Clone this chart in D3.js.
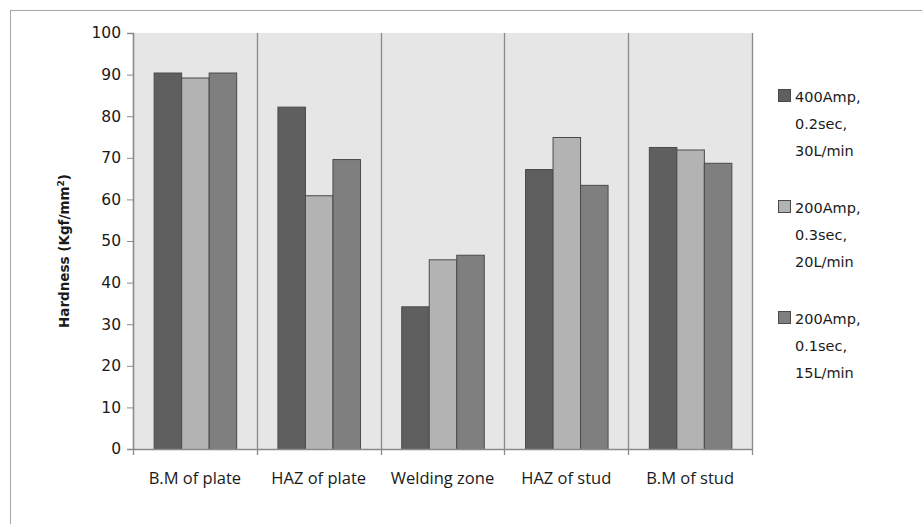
<!DOCTYPE html>
<html>
<head>
<meta charset="utf-8">
<script src="https://cdn.jsdelivr.net/npm/d3@7"></script>
<style>
  body { margin: 0; background: #fff; }
  svg text { fill: #1a1a1a; }
</style>
</head>
<body>
<div id="chart"></div>
<script>
// Hardness per zone, three welding settings
var zones = ['B.M of plate', 'HAZ of plate', 'Welding zone', 'HAZ of stud', 'B.M of stud'];
var seriesNames = [
  ['400Amp,', '0.2sec,', '30L/min'],
  ['200Amp,', '0.3sec,', '20L/min'],
  ['200Amp,', '0.1sec,', '15L/min']
];
var s400 = [90.5, 82.3, 34.3, 67.3, 72.6];
var s200a = [89.3, 61.0, 45.6, 75.0, 72.0];
var s200b = [90.5, 69.7, 46.7, 63.5, 68.8];
var yTicks = [0, 10, 20, 30, 40, 50, 60, 70, 80, 90, 100];
var colours = ['#5f5f5f', '#b3b3b3', '#7f7f7f'];

var width = 922, height = 524;
var margin = {top: 33, left: 133, right: 170, bottom: 75};
var plotW = width - margin.left - margin.right;
var plotH = height - margin.top - margin.bottom;

var svg = d3.select('#chart').append('svg')
  .attr('width', width)
  .attr('height', height);

// outer frame
svg.append('rect')
  .attr('x', 10.5).attr('y', 10.5)
  .attr('width', width + 20).attr('height', height + 20)
  .attr('fill', 'none')
  .attr('stroke', '#a6a6a6')
  .attr('stroke-width', 1);

var g = svg.append('g')
  .attr('transform', 'translate(' + margin.left + ',' + margin.top + ')');

var x = d3.scaleBand().domain(zones).range([0, plotW]).paddingInner(0).paddingOuter(0);
var xs = d3.scaleBand().domain([0, 1, 2]).range([0, x.bandwidth()]).paddingInner(0).paddingOuter(0.75);
var y = d3.scaleLinear().domain([0, 100]).range([plotH, 0]);

g.append('rect')
  .attr('width', plotW).attr('height', plotH)
  .attr('fill', '#e6e6e6');

var rows = zones.map(function(z, i) {
  return {zone: z, values: [s400[i], s200a[i], s200b[i]]};
});

g.selectAll('g.zone')
  .data(rows).enter()
  .append('g')
    .attr('class', 'zone')
    .attr('transform', function(d) { return 'translate(' + x(d.zone) + ',0)'; })
  .selectAll('rect')
  .data(function(d) { return d.values; })
  .enter().append('rect')
    .attr('x', function(d, i) { return xs(i) + 0.5; })
    .attr('y', function(d) { return y(d) + 0.5; })
    .attr('width', xs.bandwidth())
    .attr('height', function(d) { return plotH - y(d); })
    .attr('fill', function(d, i) { return colours[i]; })
    .attr('stroke', '#4a4a4a')
    .attr('stroke-width', 1);

// separators between zones, running down into tick marks
var bounds = zones.map(function(z) { return x(z); }).concat([plotW]);
g.selectAll('line.sep')
  .data(bounds).enter()
  .append('line')
    .attr('class', 'sep')
    .attr('x1', function(d) { return Math.round(d) + 0.5; })
    .attr('x2', function(d) { return Math.round(d) + 0.5; })
    .attr('y1', 0)
    .attr('y2', plotH + 6)
    .attr('stroke', '#8a8a8a')
    .attr('stroke-width', 1.3);

// y axis
var yAxis = g.append('g')
  .call(d3.axisLeft(y).tickValues(yTicks).tickSize(6).tickPadding(6));
yAxis.select('.domain').attr('stroke', '#8a8a8a').attr('stroke-width', 1.3);
yAxis.selectAll('.tick line').attr('stroke', '#8a8a8a');
yAxis.selectAll('.tick text')
  .attr('font-family', '"DejaVu Sans", Verdana, sans-serif')
  .attr('font-size', '15.5px')
  .attr('fill', '#1a1a1a');

// x baseline
g.append('line')
  .attr('x1', 0).attr('x2', plotW)
  .attr('y1', plotH + 0.5).attr('y2', plotH + 0.5)
  .attr('stroke', '#8a8a8a').attr('stroke-width', 1.3);

// category labels
g.selectAll('text.cat')
  .data(zones).enter()
  .append('text')
    .attr('class', 'cat')
    .attr('x', function(d) { return x(d) + x.bandwidth() / 2; })
    .attr('y', plotH + 35)
    .attr('text-anchor', 'middle')
    .attr('font-family', '"Open Sans", sans-serif')
    .attr('font-size', '16.5px')
    .text(function(d) { return d; });

// y title
var yt = svg.append('text')
  .attr('transform', 'translate(69,251) rotate(-90)')
  .attr('text-anchor', 'middle')
  .attr('font-family', '"DejaVu Sans", Verdana, sans-serif')
  .attr('font-weight', 'bold')
  .attr('font-size', '13.5px');
yt.append('tspan').text('Hardness  (Kgf/mm');
yt.append('tspan').attr('baseline-shift', 'super').attr('font-size', '9px').text('2');
yt.append('tspan').text(')');

// legend
var legendY = [96, 207, 318];
var leg = svg.selectAll('g.key')
  .data(seriesNames).enter()
  .append('g')
    .attr('class', 'key')
    .attr('transform', function(d, i) { return 'translate(778,' + legendY[i] + ')'; });
leg.append('rect')
  .attr('x', 0.5).attr('y', -6.5)
  .attr('width', 12).attr('height', 12)
  .attr('fill', function(d, i) { return colours[i]; })
  .attr('stroke', '#4a4a4a');
leg.append('text')
  .attr('font-family', '"DejaVu Sans", Verdana, sans-serif')
  .attr('font-size', '14.5px')
  .selectAll('tspan')
  .data(function(d) { return d; })
  .enter().append('tspan')
    .attr('x', 17)
    .attr('y', function(d, i) { return 5.5 + i * 27; })
    .text(function(d) { return d; });
</script>
</body>
</html>
